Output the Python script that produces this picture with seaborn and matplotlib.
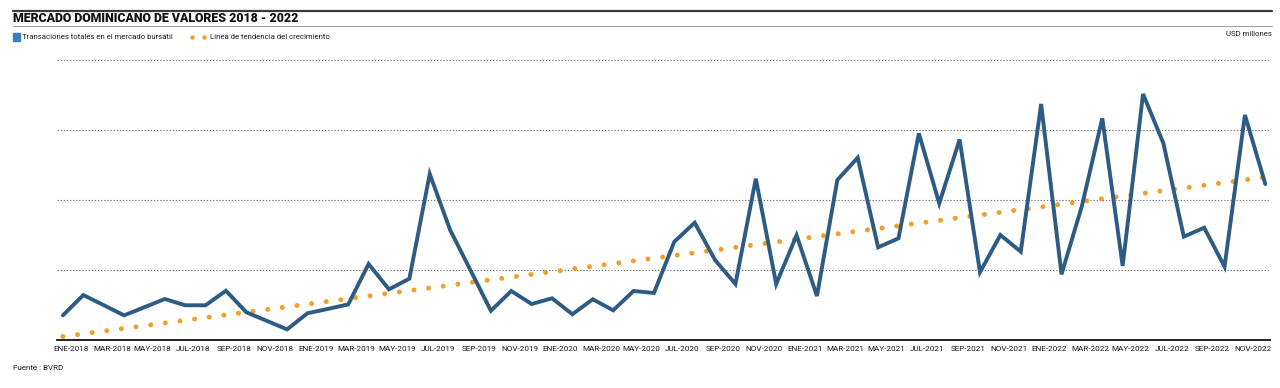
import matplotlib
matplotlib.use("Agg")
import matplotlib.pyplot as plt
import seaborn as sns
import pandas as pd
import numpy as np
from matplotlib.patches import Rectangle
from matplotlib.lines import Line2D

# ---------------- data ----------------
meses = ["ENE", "FEB", "MAR", "ABR", "MAY", "JUN", "JUL", "AGO", "SEP", "OCT", "NOV", "DIC"]
anios = [2018, 2019, 2020, 2021, 2022]
periodos = [f"{m}-{a}" for a in anios for m in meses]

# Transacciones totales en el mercado bursátil (USD millones)
transacciones = [
    176, 321, 249, 176, 234, 293, 248, 248, 352, 198, 137, 76,
    191, 222, 254, 543, 362, 438, 1186, 786, 498, 209, 350, 257,
    298, 184, 291, 212, 350, 336, 702, 838, 571, 400, 1152, 400,
    748, 314, 1143, 1302, 662, 726, 1476, 976, 1432, 484, 750, 631,
    1686, 469, 957, 1584, 529, 1757, 1405, 738, 802, 524, 1607, 1114,
]
# Línea de tendencia: valor al inicio (ENE-2018) y al final (DIC-2022)
tendencia_periodos = ["ENE-2018", "DIC-2022"]
tendencia_valores = [25, 1163]

etiquetas_x = periodos[::2]
lineas_guia = [500, 1000, 1500, 2000]

titulo = "MERCADO DOMINICANO DE VALORES 2018 - 2022"
leyenda_1 = "Transaciones totales en el mercado bursátil"
leyenda_2 = "Línea de tendencia del crecimiento"
unidad = "USD millones"
fuente = "Fuente : BVRD"

# ---------------- figure ----------------
sns.set_theme(style="white")
plt.rcParams["font.family"] = ["Roboto", "DejaVu Sans"]

W, H = 1280, 388
fig = plt.figure(figsize=(W / 100, H / 100), dpi=100)

def fx(px):
    return px / W

def fy(py):
    return 1 - py / H

# axes: x from 57 to 1270 px, y baseline 340 px; value 2100 at top
ax_left, ax_right = 57, 1270
y_base, y_top = 340, 46
ax = fig.add_axes([fx(ax_left), fy(y_base), (ax_right - ax_left) / W, (y_base - y_top) / H])

df = pd.DataFrame({"idx": np.arange(len(periodos)), "periodo": periodos, "valor": transacciones})
pos = {p: i for i, p in enumerate(periodos)}
dft = pd.DataFrame({"idx": [pos[p] for p in tendencia_periodos], "valor": tendencia_valores})

blue = "#2c5b84"
orange = "#f0a028"

sns.lineplot(data=dft, x="idx", y="valor", ax=ax, color=orange, lw=3.6,
             linestyle=(0, (0.001, 2.95)), dash_capstyle="round", zorder=2)
sns.lineplot(data=df, x="idx", y="valor", ax=ax, color=blue, lw=2.8,
             solid_joinstyle="miter", zorder=3)

ax.set_xlim(-0.29, 59.23)
ax.set_ylim(0, 2100)
ax.set_yticks(lineas_guia)
ax.set_yticklabels([])
ax.tick_params(axis="y", length=0)
for v in lineas_guia:
    ax.axhline(v, color="#777777", lw=0.8, linestyle=(0, (1.2, 1.6)), zorder=1)

ax.set_xticks(np.arange(0, len(periodos), 2) + 0.4)
ax.set_xticklabels(etiquetas_x, fontsize=5.9, color="#1a1a1a")
ax.tick_params(axis="x", length=0, pad=4)
ax.set_xlabel("")
ax.set_ylabel("")
for s in ["top", "left", "right"]:
    ax.spines[s].set_visible(False)
ax.spines["bottom"].set_color("#111111")
ax.spines["bottom"].set_linewidth(1.3)
ax.grid(False)

# ---------------- header / footer ----------------
fig.add_artist(Line2D([fx(13), fx(1272)], [fy(10.5), fy(10.5)], color="#3a3a3a", lw=1.6))
fig.add_artist(Line2D([fx(13), fx(1272)], [fy(25.5), fy(25.5)], color="#9a9a9a", lw=0.7))
fig.text(fx(13), fy(18.5), titulo, fontsize=8.95, fontweight="black", va="center", ha="left",
         family=["Roboto", "DejaVu Sans"], color="#111111")

fig.add_artist(Rectangle((fx(13), fy(40.5)), 7 / W, 7 / H, color="#3b7cc0"))
fig.text(fx(22), fy(37), leyenda_1, fontsize=5.6, va="center", ha="left", color="#222222")
fig.add_artist(Line2D([fx(192), fx(204)], [fy(37), fy(37)], color=orange, lw=0,
                      marker="o", markersize=3.2, markeredgewidth=0))
fig.text(fx(210), fy(37), leyenda_2, fontsize=5.6, va="center", ha="left", color="#222222")
fig.text(fx(1272), fy(34), unidad, fontsize=5.6, va="center", ha="right", color="#222222")
fig.text(fx(13), fy(368), fuente, fontsize=5.8, va="center", ha="left", color="#222222")

fig.savefig("out.png", dpi=100)
